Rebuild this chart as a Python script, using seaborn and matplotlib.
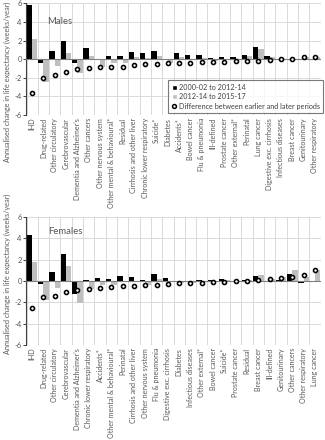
import numpy as np
import pandas as pd
import matplotlib
matplotlib.use("Agg")
import matplotlib.pyplot as plt
import seaborn as sns
from matplotlib.patches import Patch
from matplotlib.lines import Line2D

# ---------------- data ----------------
male_causes = ["IHD", "Drug-related", "Other circulatory", "Cerebrovascular",
               "Dementia and Alzheimer's", "Other cancers", "Other nervous system",
               "Other mental & behavioural*", "Residual", "Cirrhosis and other liver",
               "Chronic lower respiratory", "Suicide*", "Diabetes", "Accidents*",
               "Bowel cancer", "Flu & pneumonia", "Ill-defined", "Prostate cancer",
               "Other external*", "Perinatal", "Lung cancer", "Digestive exc. cirrhosis",
               "Infectious diseases", "Breast cancer", "Genitourinary", "Other respiratory"]
male_early = [5.8, -0.35, 0.9, 2.0, -0.45, 1.25, 0.05, 0.4, 0.35, 0.8, 0.65, 0.9, 0.05,
              0.7, 0.45, 0.45, 0.1, 0.2, 0.2, 0.45, 1.3, 0.3, 0.05, 0.0, -0.05, -0.05]
male_late = [2.2, -2.4, -0.75, 0.65, -1.45, 0.35, -0.8, -0.45, -0.45, 0.2, 0.1, 0.4, -0.4,
             0.25, 0.05, 0.15, -0.2, -0.1, 0.05, 0.3, 1.15, 0.2, 0.05, 0.07, 0.2, 0.2]
male_diff = [-3.6, -2.05, -1.65, -1.35, -1.0, -0.9, -0.85, -0.85, -0.8, -0.6, -0.55, -0.5,
             -0.45, -0.45, -0.4, -0.3, -0.3, -0.3, -0.15, -0.15, -0.15, -0.1, 0.0, 0.07,
             0.25, 0.25]

female_causes = ["IHD", "Drug-related", "Other circulatory", "Cerebrovascular",
                 "Dementia and Alzheimer's", "Chronic lower respiratory", "Accidents*",
                 "Other mental & behavioural*", "Perinatal", "Cirrhosis and other liver",
                 "Other nervous system", "Flu & pneumonia", "Digestive exc. cirrhosis",
                 "Diabetes", "Infectious diseases", "Other external*", "Bowel cancer",
                 "Suicide*", "Prostate cancer", "Residual", "Breast cancer", "Ill-defined",
                 "Genitourinary", "Other cancers", "Other respiratory", "Lung cancer"]
female_early = [4.3, -0.3, 0.8, 2.5, -1.25, 0.05, 0.3, 0.2, 0.45, 0.35, 0.05, 0.62, 0.25,
                0.0, 0.0, 0.05, 0.05, 0.2, 0.0, 0.1, 0.45, 0.0, 0.05, 0.65, -0.2, -0.05]
female_late = [1.8, -1.8, -0.65, 1.45, -2.1, -0.73, -0.35, -0.35, -0.05, -0.1, -0.35, 0.22,
               0.0, -0.22, -0.19, -0.12, -0.05, 0.12, 0.03, 0.08, 0.55, 0.17, 0.35, 1.05,
               0.35, 1.0]
female_diff = [-2.5, -1.5, -1.45, -1.05, -0.85, -0.78, -0.65, -0.55, -0.5, -0.45, -0.4,
               -0.4, -0.28, -0.22, -0.19, -0.16, -0.09, -0.06, 0.03, 0.0, 0.1, 0.17, 0.3,
               0.4, 0.55, 1.05]

series_labels = ["2000-02 to 2012-14", "2012-14 to 2015-17"]
diff_label = "Difference between earlier and later periods"
panel_titles = ["Males", "Females"]
y_ticks = [-6, -4, -2, 0, 2, 4, 6]
y_label = "Annualised change in life expectancy (weeks/year)"

# ---------------- style ----------------
sns.set_style("white")
plt.rcParams["font.family"] = ["Lato", "DejaVu Sans"]
TXT = "#595959"
GRID = "#d9d9d9"

W, H = 325, 440
fig = plt.figure(figsize=(W / 100, H / 100), dpi=100)
ax1 = fig.add_axes([26.5 / W, 1 - 115 / H, 294 / W, 111.5 / H])
ax2 = fig.add_axes([26.5 / W, 1 - 345 / H, 294 / W, 128 / H])


def draw(ax, causes, early, late, diff, title, tx, ty):
    n = len(causes)
    df = pd.DataFrame({
        "cause": causes * 2,
        "value": early + late,
        "period": [series_labels[0]] * n + [series_labels[1]] * n,
    })
    sns.barplot(data=df, x="cause", y="value", hue="period", order=causes,
                hue_order=series_labels, palette=["#000000", "#bfbfbf"],
                width=0.94, gap=0, saturation=1, linewidth=0, legend=False,
                ax=ax, zorder=2)
    sns.pointplot(x=causes, y=diff, order=causes, color="black", linestyle="none",
                  marker="o", markersize=2.9, markerfacecolor="white",
                  markeredgecolor="black", markeredgewidth=1.15, errorbar=None,
                  ax=ax, zorder=4)
    ax.set_xlim(-0.5, n - 0.5)
    ax.set_ylim(-6, 6)
    ax.set_yticks(y_ticks)
    ax.set_yticklabels([str(v) for v in y_ticks])
    ax.set_xticks(np.arange(n))
    ax.set_xticklabels(causes, rotation=90, ha="center", va="top")
    ax.set_xticks(np.arange(n + 1) - 0.5, minor=True)
    ax.set_axisbelow(True)
    ax.yaxis.grid(True, color=GRID, lw=0.7)
    ax.xaxis.grid(True, which="minor", color=GRID, lw=0.7)
    ax.xaxis.grid(False, which="major")
    ax.axhline(0, color="#7f7f7f", lw=0.8, zorder=3)
    for s in ["top", "right", "bottom"]:
        ax.spines[s].set_visible(False)
    ax.spines["left"].set_color("#404040")
    ax.spines["left"].set_linewidth(0.8)
    ax.tick_params(axis="x", which="both", length=0, labelsize=5.1,
                   labelcolor=TXT, pad=2)
    ax.tick_params(axis="y", length=2, width=0.7, color="#404040",
                   labelsize=5.5, labelcolor=TXT, pad=1.5, left=True)
    ax.set_xlabel("")
    ax.set_ylabel("")
    ax.text(tx, ty, title, transform=ax.transAxes, fontsize=6.8, color=TXT,
            ha="center", va="center")


draw(ax1, male_causes, male_early, male_late, male_diff, panel_titles[0], 0.114, 0.84)
draw(ax2, female_causes, female_early, female_late, female_diff, panel_titles[1], 0.131, 0.883)

fig.text(7.5 / W, 1 - 82 / H, y_label, rotation=90, ha="center", va="center",
         fontsize=5.2, color=TXT)
fig.text(7.5 / W, 1 - 274 / H, y_label, rotation=90, ha="center", va="center",
         fontsize=5.2, color=TXT)

handles = [Patch(facecolor="#000000"), Patch(facecolor="#bfbfbf"),
           Line2D([], [], marker="o", ls="none", mfc="white", mec="black",
                  mew=1.1, ms=2.8)]
leg = ax1.legend(handles, series_labels + [diff_label], loc="lower right",
                 bbox_to_anchor=(323 / W, 1 - 113 / H), bbox_transform=fig.transFigure,
                 fontsize=5.2, frameon=True, fancybox=False, edgecolor="#595959",
                 handlelength=0.7, handleheight=0.7, handletextpad=0.3,
                 borderpad=0.45, labelspacing=0.35, borderaxespad=0,
                 labelcolor="#404040")
leg.get_frame().set_linewidth(0.8)
leg.set_zorder(10)

fig.savefig("out.png", dpi=100)
